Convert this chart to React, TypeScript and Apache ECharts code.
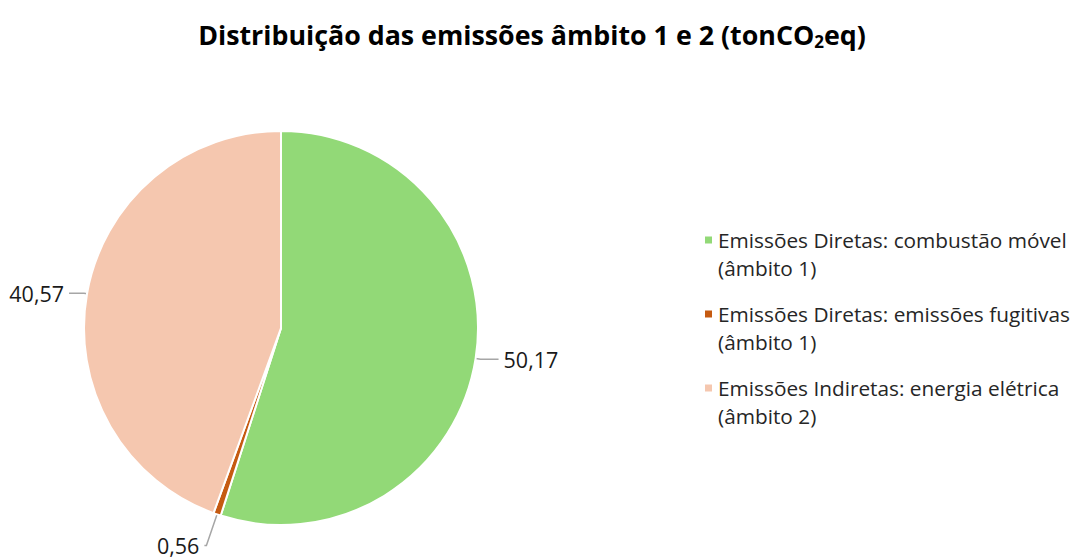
import React, { useEffect, useRef } from "react";
import * as echarts from "echarts";

const categories = [
  "Emissões Diretas: combustão móvel (âmbito 1)",
  "Emissões Diretas: emissões fugitivas (âmbito 1)",
  "Emissões Indiretas: energia elétrica (âmbito 2)",
];
const values = [50.17, 0.56, 40.57];
const colors = ["#92D977", "#C55A11", "#F5C7AF"];
const legendLines = [
  ["Emissões Diretas: combustão móvel", "(âmbito 1)"],
  ["Emissões Diretas: emissões fugitivas", "(âmbito 1)"],
  ["Emissões Indiretas: energia elétrica", "(âmbito 2)"],
];
const labelLines = [
  { length: 5, length2: 18 },
  { length: 33, length2: 2 },
  { length: 3, length2: 15 },
];
const labelPads = [
  [0, 0, 0, 0],
  [0, 0, 0, 0],
  [0, 0, 14, 0],
];

const FONT = "'Open Sans', 'Noto Sans', sans-serif";

export default function App() {
  const ref = useRef<HTMLDivElement>(null);
  useEffect(() => {
    if (!ref.current) return;
    const chart = echarts.init(ref.current, null, { renderer: "svg" });
    const legendTops = [198, 272, 346];
    const option: any = {
      animation: false,
      backgroundColor: "#ffffff",
      title: {
        text: "Distribuição das emissões âmbito 1 e 2 (tonCO{sub|2}eq)",
        left: 527,
        textAlign: "center",
        top: 14,
        textStyle: {
          fontFamily: FONT,
          fontWeight: "bold",
          fontSize: 26.8,
          color: "#000000",
          rich: {
            sub: {
              fontFamily: FONT,
              fontWeight: "bold",
              fontSize: 17,
              color: "#000000",
              padding: [14, 0, 0, 0],
            },
          },
        },
      },
      legend: categories.map((c, i) => ({
        data: [{ name: c, icon: "rect" }],
        left: 703,
        top: legendTops[i],
        padding: 0,
        itemWidth: 9,
        itemHeight: 9,
        selectedMode: false,
        formatter: () => " \n" + legendLines[i].join("\n"),
        textStyle: {
          fontFamily: FONT,
          fontSize: 20.8,
          color: "#262626",
          lineHeight: 28,
        },
      })),
      series: [
        {
          type: "pie",
          center: [281, 328],
          radius: 197,
          startAngle: 90,
          clockwise: true,
          itemStyle: { borderColor: "#ffffff", borderWidth: 2 },
          label: {
            show: true,
            position: "outside",
            fontFamily: FONT,
            fontSize: 21.5,
            color: "#1a1a1a",
            distanceToLabelLine: 5,
            overflow: "none",
            bleedMargin: 0,
            formatter: (p: any) => String(p.value).replace(".", ","),
          },
          labelLine: {
            show: true,
            lineStyle: { color: "#a6a6a6", width: 1.5 },
          },
          emphasis: { disabled: true },
          data: categories.map((c, i) => ({
            name: c,
            value: values[i],
            itemStyle: { color: colors[i] },
            labelLine: labelLines[i],
            label: { padding: labelPads[i] },
          })),
        },
      ],
    };
    chart.setOption(option);
    return () => chart.dispose();
  }, []);
  return (
    <div
      ref={ref}
      style={{ position: "fixed", left: 0, top: 0, width: 1073, height: 559 }}
    />
  );
}
